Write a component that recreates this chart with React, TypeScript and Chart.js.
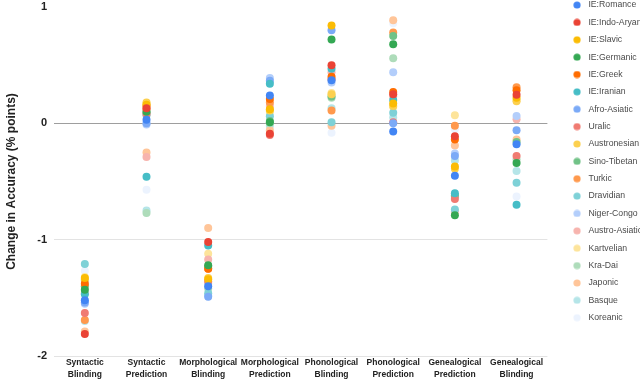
import React, { useEffect, useRef } from 'react';
import { Chart, registerables } from 'chart.js';

Chart.register(...registerables);

const categories = [
  ['Syntactic', 'Blinding'],
  ['Syntactic', 'Prediction'],
  ['Morphological', 'Blinding'],
  ['Morphological', 'Prediction'],
  ['Phonological', 'Blinding'],
  ['Phonological', 'Prediction'],
  ['Genealogical', 'Prediction'],
  ['Genealogical', 'Blinding'],
];

const families = [
  'IE:Romance', 'IE:Indo-Aryan', 'IE:Slavic', 'IE:Germanic', 'IE:Greek', 'IE:Iranian',
  'Afro-Asiatic', 'Uralic', 'Austronesian', 'Sino-Tibetan', 'Turkic', 'Dravidian',
  'Niger-Congo', 'Austro-Asiatic', 'Kartvelian', 'Kra-Dai', 'Japonic', 'Basque', 'Koreanic',
];

const colors = [
  '#4285f4', '#ea4335', '#fbbc04', '#34a853', '#ff6d01', '#46bdc6',
  '#7baaf7', '#f07b72', '#fcd04f', '#71c287', '#ff994d', '#7ed1d7',
  '#b3cefb', '#f7b4ae', '#fde49b', '#aedcba', '#ffc599', '#b5e5e8', '#ecf3fe',
];

// values per family: [SynB, SynP, MorB, MorP, PhoB, PhoP, GenP, GenB]
const romance = [-1.52, 0.03, -1.40, 0.24, 0.37, -0.07, -0.45, -0.18];
const indoAryan = [-1.81, 0.13, -1.02, -0.09, 0.50, 0.25, -0.11, 0.245];
const slavic = [-1.33, 0.16, -1.34, 0.12, 0.84, 0.17, -0.37, 0.22];
const germanic = [-1.43, 0.10, -1.22, 0.01, 0.72, 0.68, -0.79, -0.34];
const greek = [-1.38, 0.15, -1.25, 0.21, 0.40, 0.27, -0.14, 0.285];
const iranian = [-1.47, -0.46, -1.05, 0.34, 0.47, 0.20, -0.60, -0.70];
const afroAsiatic = [-1.54, 0.00, -1.49, 0.365, 0.80, 0.00, -0.28, -0.06];
const uralic = [-1.63, 0.08, -1.36, -0.10, 0.38, 0.01, -0.65, -0.28];
const austronesian = [-1.34, 0.18, -1.33, 0.11, 0.25, 0.15, -0.39, 0.19];
const sinoTibetan = [-1.40, 0.09, -1.23, 0.02, 0.23, 0.75, -0.62, -0.16];
const turkic = [-1.69, 0.12, -1.25, 0.18, 0.11, 0.78, -0.02, 0.31];
const dravidian = [-1.21, 0.07, -1.46, 0.06, 0.01, 0.09, -0.74, -0.51];
const nigerCongo = [-1.55, -0.01, -1.48, 0.39, 0.35, 0.44, -0.26, 0.064];
const austroAsiatic = [-1.46, -0.29, -1.17, 0.15, 0.44, 0.23, -0.76, 0.036];
const kartvelian = [-1.32, 0.17, -1.12, 0.10, 0.26, 0.14, 0.07, 0.20];
const kraDai = [-1.35, -0.77, -1.42, 0.00, 0.22, 0.56, -0.63, -0.31];
const japonic = [-1.79, -0.25, -0.90, -0.06, -0.02, 0.886, -0.19, -0.14];
const basque = [-1.70, -0.75, -1.38, -0.02, 0.13, 0.05, -0.32, -0.41];
const koreanic = [-1.27, -0.57, -1.39, 0.08, -0.08, 0.86, -0.05, -0.63];

const seriesValues = [
  romance, indoAryan, slavic, germanic, greek, iranian, afroAsiatic, uralic,
  austronesian, sinoTibetan, turkic, dravidian, nigerCongo, austroAsiatic,
  kartvelian, kraDai, japonic, basque, koreanic,
];

const yMin = -2;
const yMax = 1;
const yTitle = 'Change in Accuracy (% points)';

const FONT = "'Liberation Sans', Arial, Helvetica, sans-serif";

export default function App() {
  const ref = useRef<HTMLCanvasElement>(null);

  useEffect(() => {
    const dots = colors.map((c) => {
      const cv = document.createElement('canvas');
      cv.width = 8;
      cv.height = 8;
      const g = cv.getContext('2d')!;
      g.fillStyle = c;
      g.beginPath();
      g.arc(4, 4, 3.6, 0, Math.PI * 2);
      g.fill();
      return cv;
    });

    const chart = new Chart(ref.current!, {
      type: 'line',
      data: {
        labels: categories as any,
        datasets: families.map((f, i) => ({
          label: f,
          data: seriesValues[i],
          showLine: false,
          backgroundColor: colors[i],
          borderColor: colors[i],
          pointBackgroundColor: colors[i],
          pointBorderColor: colors[i],
          pointBorderWidth: 0,
          pointRadius: 4,
          pointHoverRadius: 4,
        })),
      },
      options: {
        responsive: true,
        maintainAspectRatio: false,
        animation: false,
        events: [],
        layout: { padding: 0 },
        plugins: {
          legend: {
            position: 'right',
            align: 'start',
            maxWidth: 92,
            labels: {
              usePointStyle: true,
              pointStyleWidth: 14,
              padding: 8.67,
              color: '#4a4a4a',
              font: { family: FONT, size: 8.7 },
              generateLabels: (ch: any) =>
                (Chart.defaults.plugins.legend.labels.generateLabels as any)(ch).map((it: any, i: number) => ({
                  ...it,
                  pointStyle: dots[it.datasetIndex ?? i],
                  fontColor: '#4a4a4a',
                })),
            },
          },
          tooltip: { enabled: false },
        },
        scales: {
          x: {
            type: 'category',
            offset: true,
            grid: { display: false, drawTicks: false },
            border: { display: false },
            ticks: {
              autoSkip: false,
              maxRotation: 0,
              minRotation: 0,
              padding: 1,
              color: '#222',
              font: { family: FONT, size: 8.5, weight: 'bold', lineHeight: 1.4 },
            },
            afterFit: (s: any) => { s.height = 26; },
          },
          xTop: {
            type: 'linear',
            position: 'top',
            display: true,
            grid: { display: false, drawTicks: false },
            border: { display: false },
            ticks: { display: false },
            afterFit: (s: any) => { s.height = 15; },
          },
          y: {
            type: 'linear',
            min: yMin,
            max: yMax,
            ticks: {
              stepSize: 1,
              padding: 7,
              color: '#222',
              font: { family: FONT, size: 11, weight: 'bold' },
            },
            grid: {
              drawTicks: false,
              color: (ctx: any) =>
                ctx.tick && ctx.tick.value === 0
                  ? '#9e9e9e'
                  : ctx.tick && ctx.tick.value === yMax
                  ? 'rgba(0,0,0,0)'
                  : '#e3e3e3',
            },
            border: { display: false },
            title: {
              display: true,
              text: yTitle,
              color: '#222',
              font: { family: FONT, size: 12, weight: 'bold' },
            },
            afterFit: (s: any) => { s.width = 54; },
          },
          yRight: {
            type: 'linear',
            position: 'right',
            display: true,
            grid: { display: false, drawTicks: false },
            border: { display: false },
            ticks: { display: false },
            afterFit: (s: any) => { s.width = 14; },
          },
        },
      } as any,
    });
    return () => chart.destroy();
  }, []);

  return (
    <div style={{ position: 'fixed', left: 0, top: -8, width: 652, height: 390 }}>
      <canvas ref={ref} />
    </div>
  );
}
